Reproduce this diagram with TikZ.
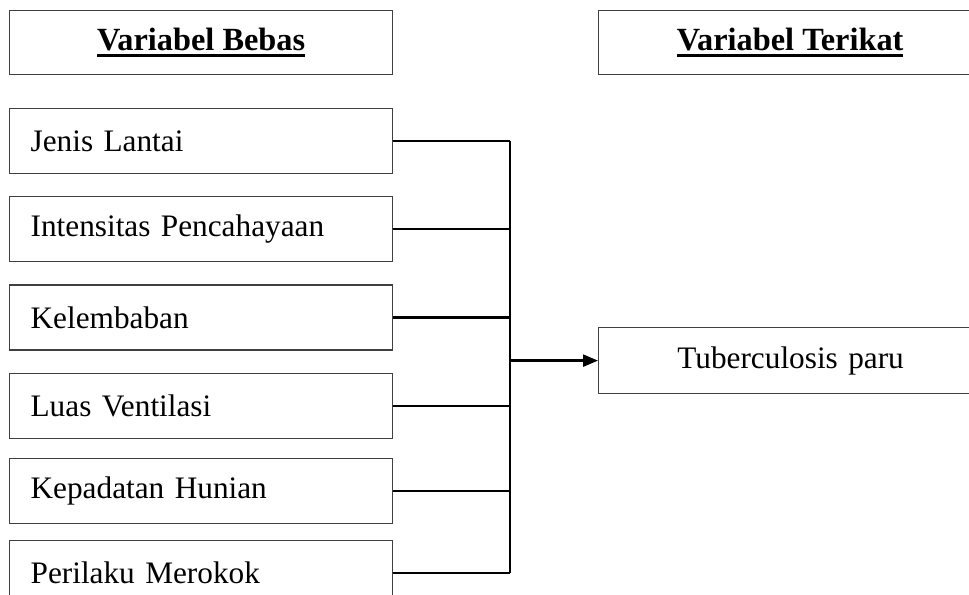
\documentclass[tikz,border=0pt]{standalone}
\usepackage{fontspec}
\setmainfont{Liberation Serif}
\usepackage{tikz}
\usetikzlibrary{arrows.meta,positioning}
\newcommand{\thickul}[1]{\vtop{\hbox{#1}\kern1.2pt\hrule height1.8pt}}

\begin{document}
\begin{tikzpicture}[
  head/.style={draw=black!75,line width=0.7pt,minimum width=7.66cm,minimum height=1.28cm,anchor=north west,font=\fontsize{18.4}{21}\selectfont\bfseries},
  var/.style={draw=black!75,line width=0.7pt,text width=6.82cm,inner xsep=0.42cm,minimum height=1.3cm,align=left,font=\fontsize{17.8}{21}\selectfont},
  link/.style={line width=1.3pt},
  node distance=0.44cm]
  \useasboundingbox (0,0) rectangle (19.38,-11.9);
  \clip (0,0) rectangle (19.38,-11.9);
  \node[head] (bebas) at (0.18,-0.2) {\thickul{Variabel Bebas}};
  \node[head] (terikat) at (11.96,-0.2) {\thickul{Variabel Terikat}};
  \node[var,anchor=north west] (x1) at (0.18,-2.16) {Jenis Lantai};
  \node[var,below=of x1] (x2) {Intensitas Pencahayaan};
  \node[var,below=of x2] (x3) {Kelembaban};
  \node[var,below=of x3] (x4) {Luas Ventilasi};
  \node[var,below=0.38cm of x4] (x5) {Kepadatan Hunian};
  \node[var,below=0.32cm of x5] (x6) {Perilaku Merokok};
  \node[var,text width=6.84cm,align=center,minimum height=1.32cm,anchor=north west] (tb) at (11.96,-6.54) {Tuberculosis paru};
  \coordinate (bus) at (10.2,0);
  \foreach \i in {1,...,6}
    \draw[link] (x\i.east) -- (x\i.east -| bus);
  \draw[link] (x1.east -| bus) -- (x6.east -| bus);
  \draw[link,-{Triangle[length=0.3cm,width=0.24cm]}] (tb.west -| bus) -- (tb.west);
\end{tikzpicture}
\end{document}
